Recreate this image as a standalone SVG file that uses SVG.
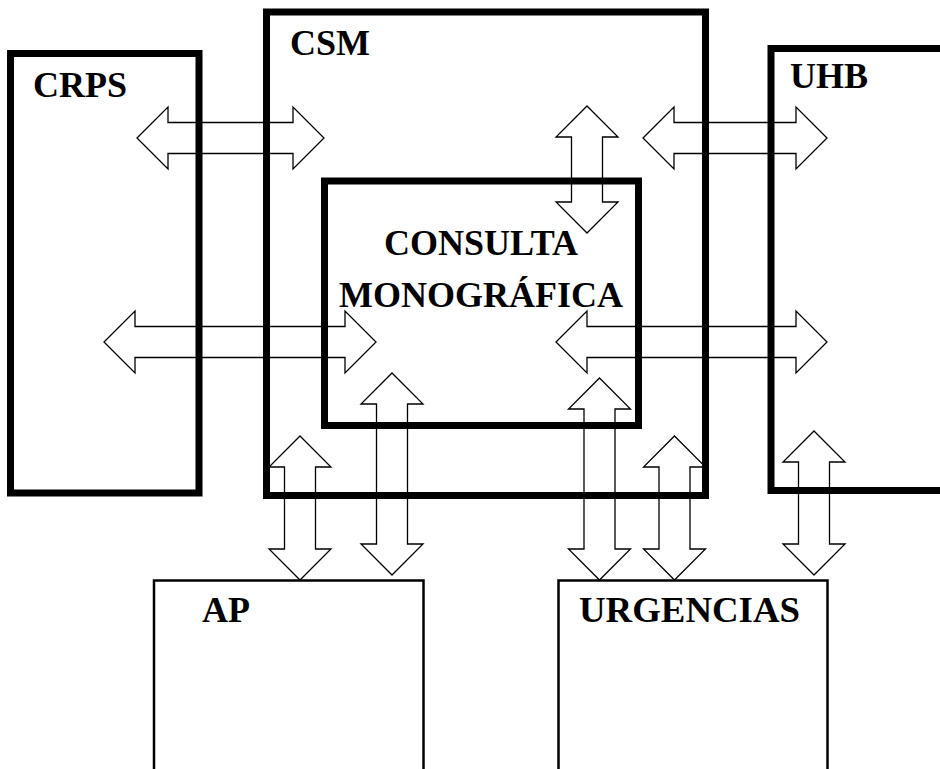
<svg xmlns="http://www.w3.org/2000/svg" width="940" height="769" viewBox="0 0 940 769">
<style>
.thick{fill:none;stroke:#000;stroke-width:7}
.thin{fill:none;stroke:#000;stroke-width:2.5}
.arr{fill:none;stroke:#000;stroke-width:1.3;stroke-linejoin:miter}
.lbl{font-family:"Liberation Serif","Times New Roman",serif;font-weight:bold;font-size:36px;fill:#000}
</style>
<rect width="940" height="769" fill="#fff"/>
<g id="CRPS"><rect class="thick" x="10.5" y="53.5" width="188.5" height="439.5"/><text class="lbl" x="33" y="97">CRPS</text></g>
<g id="CSM"><rect class="thick" x="266.5" y="12" width="439" height="483.5"/><text class="lbl" x="290" y="55">CSM</text></g>
<g id="UHB"><rect class="thick" x="771" y="48.5" width="190" height="442"/><text class="lbl" x="790" y="88">UHB</text></g>
<g id="CONSULTA"><rect class="thick" x="324.5" y="181" width="314" height="244.5"/><text class="lbl" text-anchor="middle" x="481" y="255">CONSULTA</text><text class="lbl" text-anchor="middle" x="481" y="306.5">MONOGRÁFICA</text></g>
<g id="AP"><rect class="thin" x="154" y="580.5" width="269.5" height="210"/><text class="lbl" x="202" y="621.5">AP</text></g>
<g id="URGENCIAS"><rect class="thin" x="558.5" y="580.5" width="269" height="210"/><text class="lbl" x="579" y="621.5" textLength="221" lengthAdjust="spacingAndGlyphs">URGENCIAS</text></g>
<g id="connectors">
<path class="arr" d="M137,138 L168,107 L168,122.5 L293,122.5 L293,107 L324,138 L293,169 L293,153.5 L168,153.5 L168,169 Z"/>
<path class="arr" d="M643,138 L674,107 L674,122.5 L796,122.5 L796,107 L827,138 L796,169 L796,153.5 L674,153.5 L674,169 Z"/>
<path class="arr" d="M104,342 L135,311 L135,326.5 L345,326.5 L345,311 L376,342 L345,373 L345,357.5 L135,357.5 L135,373 Z"/>
<path class="arr" d="M556,342 L587,311 L587,326.5 L796,326.5 L796,311 L827,342 L796,373 L796,357.5 L587,357.5 L587,373 Z"/>
<path class="arr" d="M587,106 L618,137 L602.5,137 L602.5,202 L618,202 L587,233 L556,202 L571.5,202 L571.5,137 L556,137 Z"/>
<path class="arr" d="M300,436 L331,467 L315.5,467 L315.5,549 L331,549 L300,580 L269,549 L284.5,549 L284.5,467 L269,467 Z"/>
<path class="arr" d="M392,373 L423,404 L407.5,404 L407.5,544 L423,544 L392,575 L361,544 L376.5,544 L376.5,404 L361,404 Z"/>
<path class="arr" d="M599.5,378 L630.5,409 L615,409 L615,549 L630.5,549 L599.5,580 L568.5,549 L584,549 L584,409 L568.5,409 Z"/>
<path class="arr" d="M674.5,436 L705.5,467 L690,467 L690,549 L705.5,549 L674.5,580 L643.5,549 L659,549 L659,467 L643.5,467 Z"/>
<path class="arr" d="M814,431 L845,462 L829.5,462 L829.5,544 L845,544 L814,575 L783,544 L798.5,544 L798.5,462 L783,462 Z"/>
</g>
</svg>
